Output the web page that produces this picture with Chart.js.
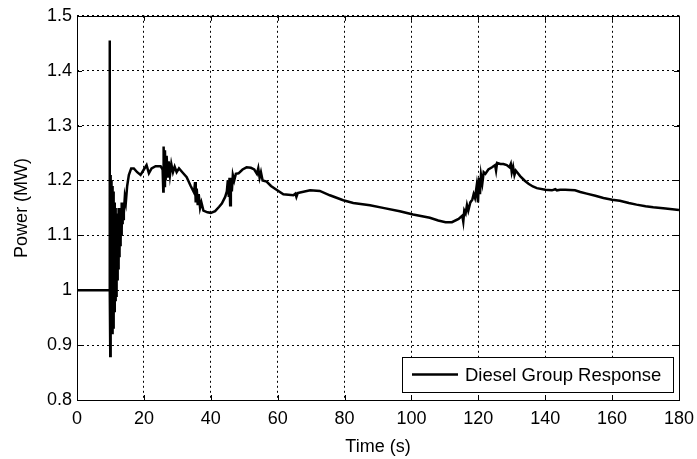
<!DOCTYPE html>
<html>
<head>
<meta charset="utf-8">
<script src="https://cdn.jsdelivr.net/npm/chart.js@4.4.1/dist/chart.umd.min.js"></script>
<style>
    html, body { margin: 0; padding: 0; background: #fff; }
    #wrap { width: 697px; height: 459px; }
</style>
</head>
<body>
<div id="wrap"><canvas id="powerChart"></canvas></div>
<script>
// time axis (s) and diesel group output (MW)
const timeS = [
    0, 9.7, 9.75, 9.85, 9.95, 10.02, 10.1, 10.17, 10.25, 10.32, 10.4, 10.48, 10.56, 10.64, 10.72, 10.8,
    10.88, 10.96, 11.04, 11.12, 11.2, 11.28, 11.36, 11.44, 11.52, 11.6, 11.68, 11.76, 11.84, 11.92, 12.0, 12.08,
    12.16, 12.24, 12.32, 12.4, 12.48, 12.56, 12.64, 12.72, 12.8, 12.88, 12.96, 13.04, 13.12, 13.2, 13.28, 13.36,
    13.44, 13.52, 13.6, 13.7, 13.8, 14.0, 14.3, 14.6, 15.0, 15.5, 16.2, 17.0, 18.0, 19.0, 20.0, 20.8,
    21.5, 22.3, 23.5, 25.0, 25.6,
    25.8, 25.9, 26.1, 26.3, 26.5, 26.8, 27.1, 27.4, 27.8, 28.2, 28.7, 29.2, 29.8, 30.5, 31.5, 32.8,
    34.0, 35.0, 35.3, 35.5, 35.8, 36.1, 36.4, 36.8, 37.2, 37.8, 39.0, 40.0, 41.3, 42.5, 43.3, 44.3,
    44.8, 45.1, 45.4, 45.6, 45.8, 46.0, 46.3, 46.6, 47.0, 47.5, 48.3, 49.5, 50.7, 52.0, 53.0, 53.8,
    54.2, 54.6, 55.0, 55.5, 56.7, 58.0, 59.2, 61.7, 64.7, 65.3, 65.6, 66.0, 66.7, 69.7, 72.6, 75.6,
    79.6, 82.6, 87.6, 91.5, 96.5, 100.5, 105.5, 108.0, 110.2, 112.1, 114.1, 115.2, 115.5, 115.8, 116.2, 116.6,
    117.0, 117.6, 118.2, 118.6, 119.0, 119.5, 119.9, 120.2, 120.5, 120.8, 121.2, 121.6, 122.1, 123.0, 124.1, 125.0,
    125.3, 125.6, 126.6, 127.5, 128.5, 129.3, 129.7, 130.0, 130.4, 130.8, 131.2, 132.5, 133.8, 135.0, 136.3, 137.5,
    140.0, 142.0, 143.0, 143.5, 144.5, 146.0, 148.9, 150.5, 152.4, 155.0, 157.4, 160.0, 162.3, 165.0, 167.3, 170.0,
    172.3, 176.0, 180.0
];
const powerMW = [
    1.0, 1.0, 1.455, 1.0, 0.88, 1.21, 0.93, 1.2, 0.92, 1.2, 0.93, 1.19, 0.92, 1.19, 0.94, 1.18,
    0.93, 1.17, 0.95, 1.16, 0.96, 1.15, 0.97, 1.15, 0.98, 1.14, 0.99, 1.14, 1.0, 1.14, 1.02, 1.14,
    1.03, 1.14, 1.04, 1.15, 1.05, 1.15, 1.06, 1.15, 1.07, 1.15, 1.08, 1.15, 1.09, 1.15, 1.1, 1.16,
    1.11, 1.16, 1.12, 1.16, 1.13, 1.14, 1.17, 1.16, 1.19, 1.21, 1.222, 1.222, 1.215, 1.21, 1.22, 1.228,
    1.213, 1.222, 1.226, 1.226, 1.22,
    1.18, 1.262, 1.19, 1.255, 1.2, 1.245, 1.205, 1.235, 1.21, 1.23, 1.215, 1.225, 1.215, 1.222, 1.215, 1.206,
    1.19, 1.178, 1.197, 1.16, 1.185, 1.155, 1.175, 1.15, 1.16, 1.145, 1.142, 1.141, 1.144, 1.152, 1.158, 1.17,
    1.18, 1.2, 1.17, 1.205, 1.155, 1.205, 1.18, 1.21, 1.2, 1.212, 1.213, 1.22, 1.224, 1.223, 1.22, 1.212,
    1.222, 1.205, 1.215, 1.2, 1.198, 1.19, 1.185, 1.175, 1.173, 1.176, 1.17, 1.177, 1.178, 1.182, 1.181, 1.173,
    1.164, 1.159, 1.155, 1.15, 1.144, 1.138, 1.132, 1.127, 1.124, 1.124, 1.13, 1.136, 1.125, 1.145, 1.14, 1.155,
    1.145, 1.16, 1.165, 1.175, 1.168, 1.19, 1.16, 1.205, 1.175, 1.21, 1.195, 1.215, 1.212, 1.22, 1.224, 1.228,
    1.218, 1.232, 1.23, 1.23, 1.228, 1.224, 1.23, 1.215, 1.225, 1.21, 1.218, 1.208, 1.2, 1.194, 1.189, 1.186,
    1.183, 1.182, 1.184, 1.182, 1.183, 1.183, 1.182, 1.179, 1.176, 1.172, 1.168, 1.165, 1.163, 1.159, 1.156, 1.153,
    1.151, 1.149, 1.146
];
const xTicks = [0, 20, 40, 60, 80, 100, 120, 140, 160, 180];
const yTicks = [0.8, 0.9, 1, 1.1, 1.2, 1.3, 1.4, 1.5];
const seriesName = "Diesel Group Response";

const fontFamily = "'Liberation Sans', Arial, sans-serif";
const tickFont = { family: fontFamily, size: 18 };

// matlab style box: solid frame, inward ticks, legend inside
const matlabBox = {
    id: "matlabBox",
    afterDraw(chart) {
        const { ctx, chartArea: a, scales } = chart;
        ctx.save();
        ctx.strokeStyle = "#000";
        ctx.lineWidth = 1;
        ctx.strokeRect(Math.round(a.left) + 0.5, Math.round(a.top) + 0.5,
            Math.round(a.right - a.left), Math.round(a.bottom - a.top));

        ctx.beginPath();
        xTicks.forEach(v => {
            const px = Math.round(scales.x.getPixelForValue(v)) + 0.5;
            ctx.moveTo(px, a.bottom); ctx.lineTo(px, a.bottom - 5);
            ctx.moveTo(px, a.top); ctx.lineTo(px, a.top + 5);
        });
        yTicks.forEach(v => {
            const py = Math.round(scales.y.getPixelForValue(v)) + 0.5;
            ctx.moveTo(a.left, py); ctx.lineTo(a.left + 5, py);
            ctx.moveTo(a.right, py); ctx.lineTo(a.right - 5, py);
        });
        ctx.stroke();

        // legend
        const bx = 402, by = 357, bw = 271, bh = 35;
        ctx.fillStyle = "#fff";
        ctx.fillRect(bx, by, bw, bh);
        ctx.strokeRect(bx + 0.5, by + 0.5, bw, bh);
        const cy = by + bh / 2;
        ctx.beginPath();
        ctx.lineWidth = 2.5;
        ctx.moveTo(412, cy); ctx.lineTo(458, cy);
        ctx.stroke();
        ctx.fillStyle = "#000";
        ctx.font = "18.5px " + fontFamily;
        ctx.textBaseline = "middle";
        ctx.fillText(seriesName, 465, cy + 1);
        ctx.restore();
    }
};

new Chart(document.getElementById("powerChart"), {
    type: "line",
    data: {
        datasets: [{
            label: seriesName,
            data: timeS.map((t, i) => ({ x: t, y: powerMW[i] })),
            borderColor: "#000",
            borderWidth: 2.5,
            pointRadius: 0,
            tension: 0,
            fill: false
        }]
    },
    options: {
        responsive: true,
        maintainAspectRatio: false,
        animation: false,
        layout: { padding: { top: 15, right: 18, left: 0, bottom: 0 } },
        plugins: { legend: { display: false }, tooltip: { enabled: false } },
        scales: {
            x: {
                type: "linear",
                min: 0, max: 180,
                afterBuildTicks: s => { s.ticks = xTicks.map(v => ({ value: v })); },
                afterFit: s => { s.height = 59; s.paddingLeft = 0; s.paddingRight = 0; },
                ticks: { color: "#000", font: tickFont, padding: 8, maxRotation: 0 },
                grid: { color: "#000", drawTicks: false, lineWidth: 1 },
                border: { display: false, dash: [2, 3] },
                title: { display: true, text: "Time (s)", color: "#000", font: tickFont, padding: { top: 0, bottom: 1 } }
            },
            y: {
                type: "linear",
                min: 0.8, max: 1.5,
                afterBuildTicks: s => { s.ticks = yTicks.map(v => ({ value: v })); },
                afterFit: s => { s.width = 77; },
                ticks: { color: "#000", font: tickFont, padding: 5, callback: v => String(Math.round(v * 10) / 10) },
                grid: { color: "#000", drawTicks: false, lineWidth: 1 },
                border: { display: false, dash: [2, 3] },
                title: { display: true, text: "Power (MW)", color: "#000", font: tickFont, padding: { top: 11, bottom: 0 } }
            }
        }
    },
    plugins: [matlabBox]
});
</script>
</body>
</html>
